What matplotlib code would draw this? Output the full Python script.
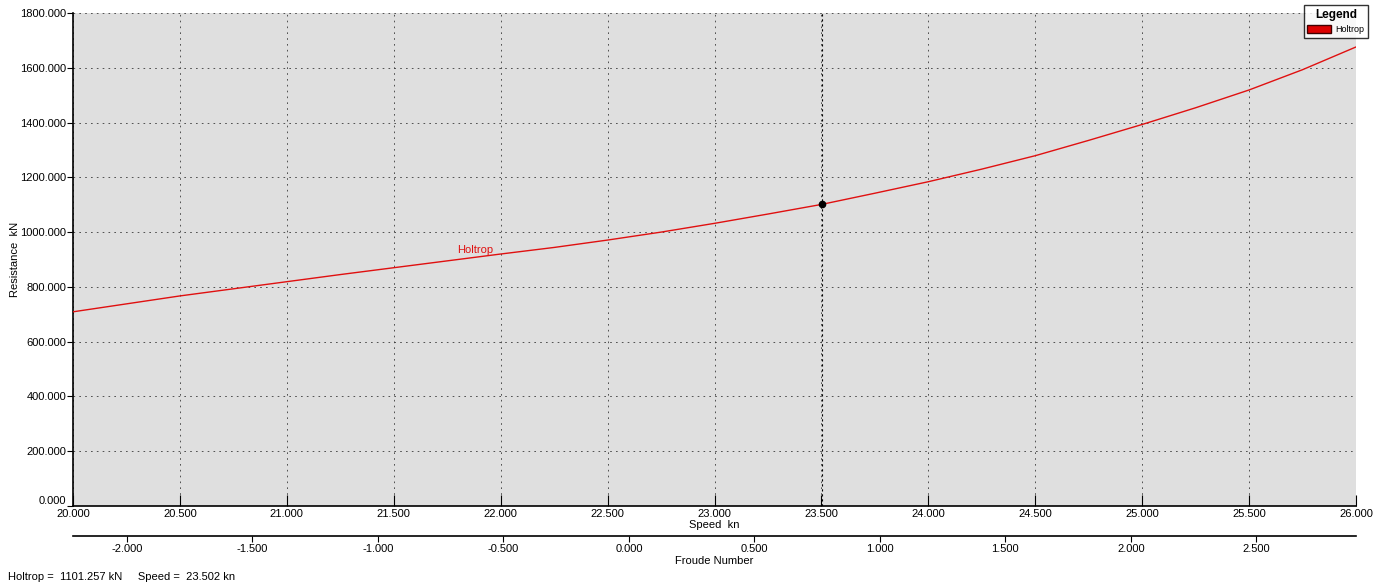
import matplotlib.pyplot as plt
import numpy as np
from matplotlib.patches import Patch

plt.rcParams['font.family'] = ['Liberation Sans', 'DejaVu Sans']

# data
speed = [20.0, 20.25, 20.5, 20.75, 21.0, 21.25, 21.5, 21.75, 22.0, 22.25,
         22.5, 22.75, 23.0, 23.25, 23.5, 23.75, 24.0, 24.25, 24.5, 24.75,
         25.0, 25.25, 25.5, 25.75, 26.0]
resistance = [709, 738, 767, 793, 819, 845, 870, 895, 920, 944,
              971, 1000, 1032, 1066, 1101, 1142, 1184, 1230, 1279, 1335,
              1393, 1454, 1519, 1593, 1676]
cursor_speed = 23.502
cursor_res = 1101.257
speed_ticks = [20.0, 20.5, 21.0, 21.5, 22.0, 22.5, 23.0, 23.5, 24.0, 24.5, 25.0, 25.5, 26.0]
res_ticks = [0, 200, 400, 600, 800, 1000, 1200, 1400, 1600, 1800]
froude_ticks = [-2.0, -1.5, -1.0, -0.5, 0.0, 0.5, 1.0, 1.5, 2.0, 2.5]

# linear mapping speed -> froude axis as drawn
fr_a = 0.852
fr_b = -19.255

fig = plt.figure(figsize=(13.9, 5.87), dpi=100)
ax = fig.add_axes([73 / 1390, 1 - 506 / 587, (1356 - 73) / 1390, (506 - 13) / 587])
ax.set_facecolor('#dfdfdf')

ax.plot(speed, resistance, color='#e01010', lw=1.0, zorder=3)
ax.plot([cursor_speed], [cursor_res], 'o', color='black', ms=4.5, zorder=4)
ax.axvline(cursor_speed, color='black', lw=0.8, ls=(0, (2, 2.5)), zorder=2)
ax.text(21.88, 935, 'Holtrop', color='#e01010', fontsize=8, ha='center', va='center')

ax.set_xlim(20, 26)
ax.set_ylim(0, 1800)
ax.set_xticks(speed_ticks)
ax.set_yticks(res_ticks)
ax.set_xticklabels(['%.3f' % v for v in speed_ticks], fontsize=8)
ax.set_yticklabels(['%.3f' % v for v in res_ticks], fontsize=8)
ax.tick_params(axis='x', direction='in', length=8, pad=2)
ax.tick_params(axis='y', direction='out', length=4, pad=1)
# nudge the 0.000 label up a bit so it clears 20.000
ax.get_yticklabels()[0].set_va('bottom')

ax.grid(True, color='#3a3a3a', lw=0.6, ls=(0, (2, 5)))
ax.set_axisbelow(True)

for side in ['top', 'right']:
    ax.spines[side].set_visible(False)
ax.spines['left'].set_linewidth(1.2)
ax.spines['bottom'].set_linewidth(1.2)

ax.set_xlabel('Speed  kn', fontsize=8, labelpad=1)
ax.set_ylabel('Resistance  kN', fontsize=8)
ax.yaxis.set_label_coords(-0.041, 0.5)

sec = ax.secondary_xaxis(-0.061, functions=(lambda s: fr_a * s + fr_b,
                                            lambda f: (f - fr_b) / fr_a))
sec.set_xticks(froude_ticks)
sec.set_xticklabels(['%.3f' % v for v in froude_ticks], fontsize=8)
sec.tick_params(direction='out', length=4, pad=2)
sec.spines['bottom'].set_linewidth(1.2)
sec.set_xlabel('Froude Number', fontsize=8, labelpad=1)

leg = ax.legend(handles=[Patch(facecolor='#dd0000', edgecolor='#400000', label='Holtrop')],
                title='Legend', loc='upper right', bbox_to_anchor=(1368 / 1390, 1 - 5 / 587),
                bbox_transform=fig.transFigure, fontsize=6.5, frameon=True, fancybox=False,
                handlelength=2.6, handleheight=0.9, borderpad=0.4, handletextpad=0.5,
                borderaxespad=0)
leg.get_title().set_fontweight('bold')
leg.get_title().set_fontsize(8.5)
leg.get_frame().set_edgecolor('black')
leg.get_frame().set_linewidth(1.0)

fig.text(8 / 1390, 1 - 577 / 587,
         'Holtrop =  %.3f kN     Speed =  %.3f kn' % (cursor_res, cursor_speed),
         fontsize=8, va='center', ha='left')

fig.savefig('out.png', dpi=100)
